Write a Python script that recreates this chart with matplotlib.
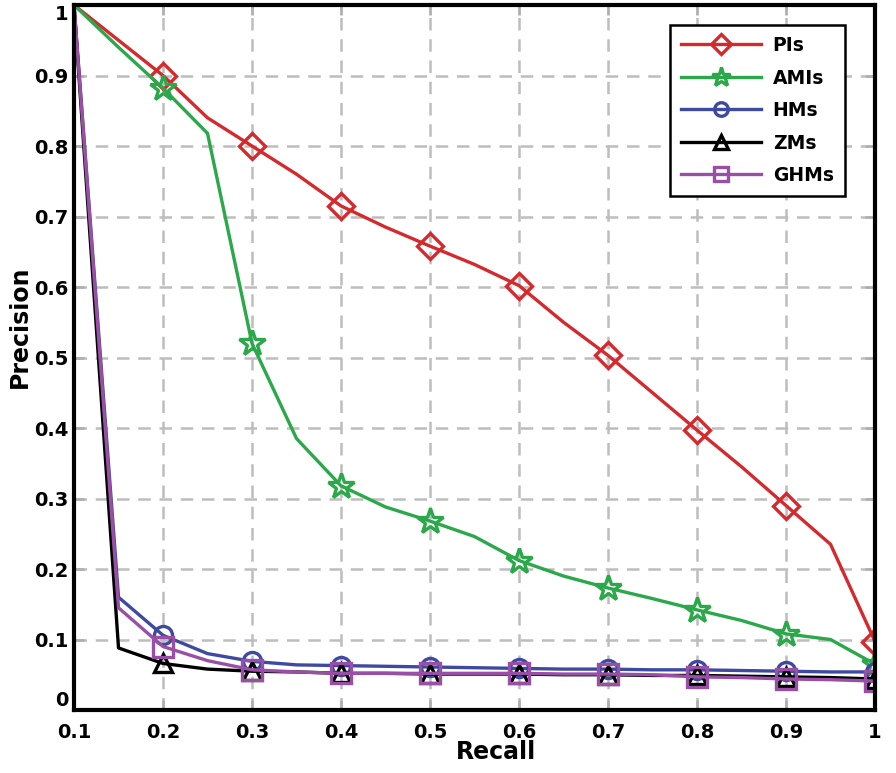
import matplotlib
matplotlib.use("Agg")
import matplotlib.pyplot as plt

recall = [0.10, 0.15, 0.20, 0.25, 0.30, 0.35, 0.40, 0.45, 0.50, 0.55,
          0.60, 0.65, 0.70, 0.75, 0.80, 0.85, 0.90, 0.95, 1.00]

pis = [1.0, 0.95, 0.90, 0.84, 0.80, 0.76, 0.715, 0.685, 0.658, 0.632,
       0.602, 0.55, 0.503, 0.45, 0.397, 0.345, 0.29, 0.235, 0.097]
amis = [1.0, 0.94, 0.882, 0.818, 0.52, 0.385, 0.318, 0.288, 0.268, 0.246,
        0.212, 0.19, 0.173, 0.158, 0.142, 0.127, 0.108, 0.1, 0.065]
hms = [1.0, 0.16, 0.106, 0.08, 0.069, 0.064, 0.063, 0.062, 0.061, 0.06,
       0.059, 0.058, 0.058, 0.057, 0.057, 0.056, 0.055, 0.054, 0.054]
zms = [1.0, 0.088, 0.066, 0.058, 0.055, 0.054, 0.052, 0.052, 0.051, 0.051,
       0.051, 0.05, 0.05, 0.049, 0.049, 0.048, 0.047, 0.046, 0.044]
ghms = [1.0, 0.145, 0.09, 0.07, 0.057, 0.054, 0.052, 0.052, 0.052, 0.052,
        0.052, 0.051, 0.051, 0.05, 0.047, 0.046, 0.044, 0.043, 0.041]

labels = ["PIs", "AMIs", "HMs", "ZMs", "GHMs"]
series = [pis, amis, hms, zms, ghms]
colors = ["#d42a2e", "#2aa84a", "#3d4aa0", "#000000", "#9a4fa6"]
markers = ["D", "*", "o", "^", "s"]
msizes = [13, 19, 13, 13, 14]

xticks = [0.1, 0.2, 0.3, 0.4, 0.5, 0.6, 0.7, 0.8, 0.9, 1.0]
xticklabels = ["0.1", "0.2", "0.3", "0.4", "0.5", "0.6", "0.7", "0.8", "0.9", "1"]
yticks = [0, 0.1, 0.2, 0.3, 0.4, 0.5, 0.6, 0.7, 0.8, 0.9, 1.0]
yticklabels = ["0", "0.1", "0.2", "0.3", "0.4", "0.5", "0.6", "0.7", "0.8", "0.9", "1"]

plt.rcParams['font.family'] = ['DejaVu Sans']
plt.rcParams['font.weight'] = 'bold'

fig = plt.figure(figsize=(8.96, 7.73), dpi=100)
ax = fig.add_axes([0.0826, 0.0815, 0.8940, 0.912])

for lab, ys, c, m, ms in zip(labels, series, colors, markers, msizes):
    ax.plot(recall, ys, color=c, lw=2.4, marker=m, markersize=ms,
            markerfacecolor='none', markeredgecolor=c, markeredgewidth=2.4,
            markevery=list(range(2, len(recall), 2)), label=lab)

ax.set_xlim(0.1, 1.0)
ax.set_ylim(0, 1.0)
ax.set_xticks(xticks)
ax.set_xticklabels(xticklabels)
ax.set_yticks(yticks)
ax.set_yticklabels(yticklabels)
ax.tick_params(axis='both', direction='in', length=7, width=2, color='#b0b0b0',
               top=True, right=True, labelsize=14)
ax.tick_params(axis='x', pad=9)
ax.tick_params(axis='y', pad=4)
for lbl in ax.get_xticklabels() + ax.get_yticklabels():
    lbl.set_fontweight('bold')
ylabs = ax.get_yticklabels()
ylabs[0].set_verticalalignment('bottom')
ylabs[-1].set_verticalalignment('top')
ax.grid(True, color='#bdbdbd', linestyle=(0, (5, 3.5)), linewidth=1.8)
ax.set_axisbelow(True)
for s in ax.spines.values():
    s.set_linewidth(3)
    s.set_color('black')

ax.set_xlabel("Recall", fontsize=17, fontweight='bold')
ax.set_ylabel("Precision", fontsize=17, fontweight='bold')
ax.xaxis.set_label_coords(0.527, -0.043)
ax.yaxis.set_label_coords(-0.052, 0.543)

leg = ax.legend(loc='upper right', bbox_to_anchor=(0.9625, 0.972), borderaxespad=0,
                fancybox=False, edgecolor='black', framealpha=1, fontsize=13.5,
                markerscale=0.75, handlelength=4.3, handletextpad=0.6,
                labelspacing=0.72, borderpad=0.6)
leg.get_frame().set_linewidth(1.8)
for t in leg.get_texts():
    t.set_fontweight('bold')

fig.savefig("out.png", dpi=100)
